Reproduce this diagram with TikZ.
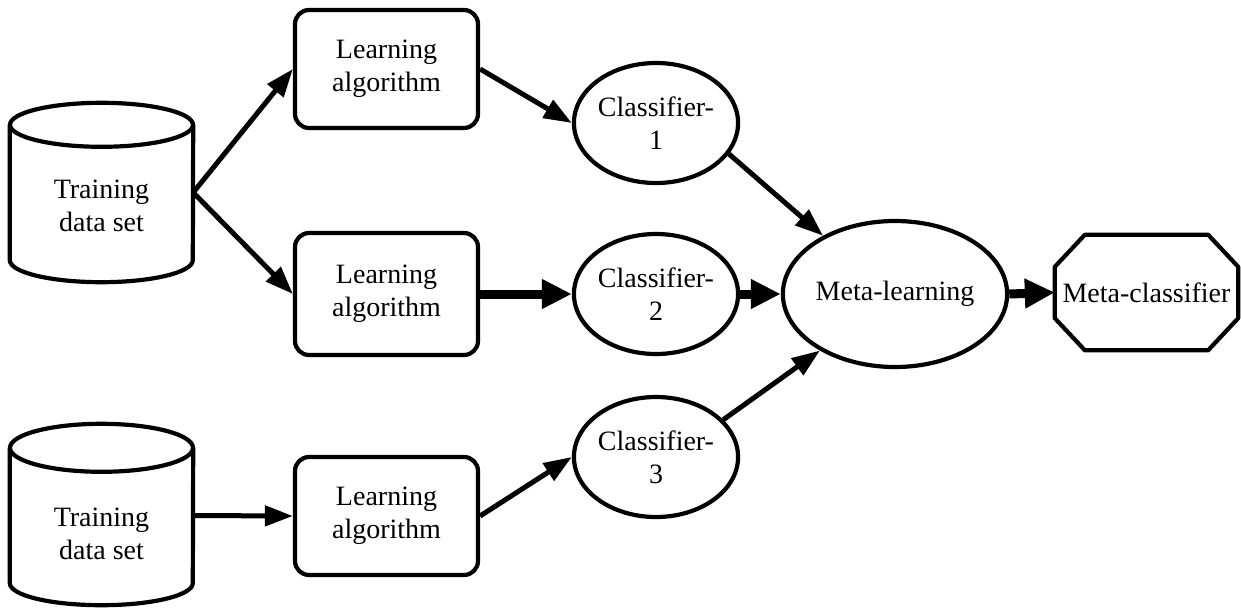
\documentclass[tikz,border=0pt]{standalone}
\usepackage{fontspec}
\setmainfont{Liberation Serif}
\usetikzlibrary{shapes.geometric,arrows.meta,calc}

\begin{document}
\begin{tikzpicture}[x=1pt,y=-1pt,
  every node/.style={font=\fontsize{28}{33}\selectfont, align=center, inner sep=0pt},
  outline/.style={line width=4.2pt, line join=round},
  frame/.style={draw=none, minimum width=183pt, minimum height=135pt},
  algbox/.style={draw, outline, rectangle, rounded corners=14pt, minimum width=183pt, minimum height=118pt},
  clf/.style={draw, outline, ellipse, minimum width=138pt, minimum height=120pt},
  metanode/.style={draw, outline, ellipse, minimum width=180pt, minimum height=146pt},
  octframe/.style={draw=none, rectangle, minimum width=183pt, minimum height=115pt},
  flow/.style={line width=5pt, -{Triangle[length=28pt,width=20pt]}},
  bigflow/.style={line width=9pt, -{Triangle[length=30pt,width=28pt]}}
]
\useasboundingbox (0,0) rectangle (1241,608);

% data sets (cylinders): frame node spans the body between the two ellipse centres
\node[frame] (cyl1) at (101.5,192.5) {};
\node (cyl1txt) at (101.5,206) {Training\\data set};
\draw[outline] (cyl1.north west) -- (cyl1.south west)
  arc[start angle=180, end angle=360, x radius=91.5pt, y radius=22pt] -- (cyl1.north east);
\draw[outline] (cyl1.north) ellipse[x radius=91.5pt, y radius=22pt];

\node[frame] (cyl2) at (101.5,515.5) {};
\node (cyl2txt) at (101.5,534) {Training\\data set};
\draw[outline] (cyl2.north west) -- (cyl2.south west)
  arc[start angle=180, end angle=360, x radius=91.5pt, y radius=22pt] -- (cyl2.north east);
\draw[outline] (cyl2.north) ellipse[x radius=91.5pt, y radius=24pt];

% learning algorithms
\node[algbox] (b1) at (386.5,69) {Learning\\algorithm};
\node[algbox, minimum height=122pt] (b2) at (386.5,294) {Learning\\algorithm};
\node[algbox] (b3) at (386.5,516) {Learning\\algorithm};

% base classifiers
\node[clf] (c1) at (656,123) {Classifier-\\1};
\node[clf] (c2) at (656,294) {Classifier-\\2};
\node[clf] (c3) at (656,457) {Classifier-\\3};

% meta level
\node[metanode] (meta) at (895,294) {Meta-learning};
\node[octframe] (mc) at (1146.5,292.5) {Meta-classifier};
\draw[outline] ($(mc.north west)+(30,0)$) -- ($(mc.north east)+(-30,0)$)
  -- ($(mc.north east)+(0,32)$) -- ($(mc.south east)+(0,-32)$)
  -- ($(mc.south east)+(-30,0)$) -- ($(mc.south west)+(30,0)$)
  -- ($(mc.south west)+(0,-32)$) -- ($(mc.north west)+(0,32)$) -- cycle;

% connectors
\draw[flow] (cyl1.east) -- (b1.west);
\draw[flow] (cyl1.east) -- (b2.west);
\draw[flow] (cyl2.east) -- (b3.west);
\draw[flow] (b1.east) -- (c1.west);
\draw[bigflow] (b2.east) -- (c2.west);
\draw[flow] (b3.east) -- (c3.west);
\draw[flow] (c1.-23) -- (meta.141);
\draw[bigflow] (c2.east) -- (meta.west);
\draw[flow] (c3.29) -- (meta.-143);
\draw[bigflow] (meta.east) -- (mc.west);
\end{tikzpicture}
\end{document}
